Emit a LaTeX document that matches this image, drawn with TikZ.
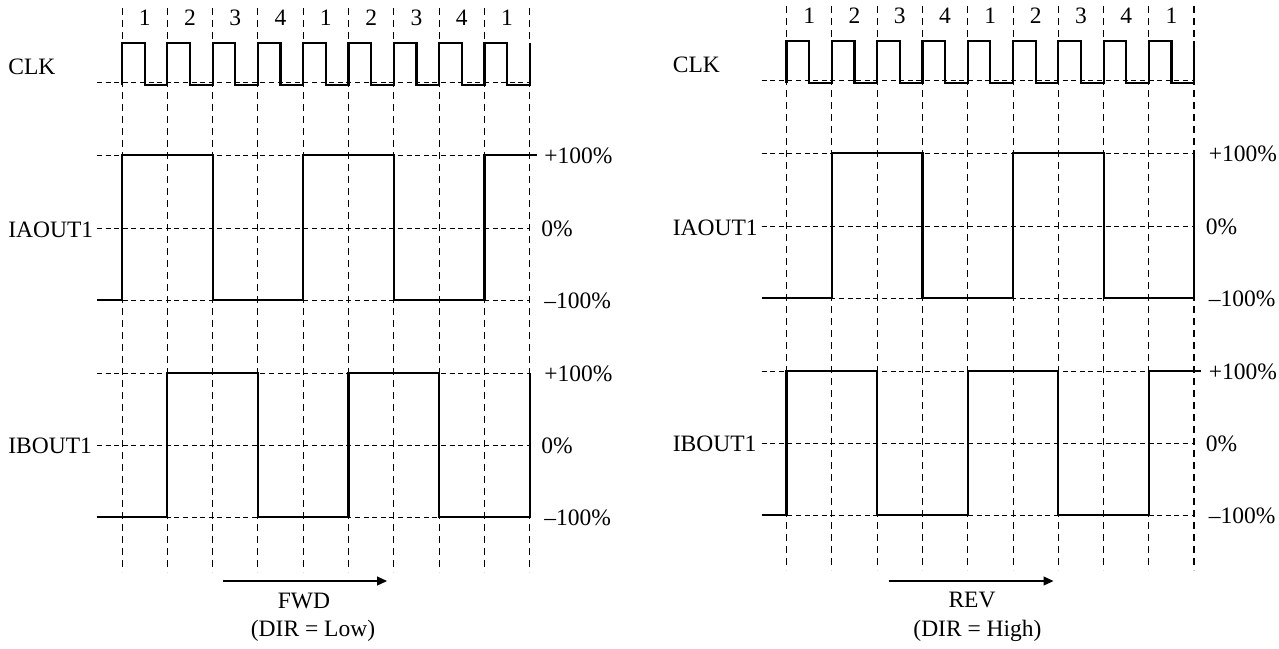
\documentclass[tikz,border=0pt]{standalone}
\usepackage{fontspec}
\setmainfont{Liberation Serif}
\usetikzlibrary{positioning, arrows.meta}

\tikzset{
  gridv/.style={line width=0.5pt, dash pattern=on 3.5pt off 2.5pt},
  gridh/.style={line width=0.5pt, dash pattern=on 2.5pt off 1.8pt},
  wave/.style={line width=1.1pt, line join=miter},
  lbl/.style={font=\fontsize{11.75}{14}\selectfont, inner sep=0pt},
  dirarrow/.style={-{Triangle[length=5pt,width=4.5pt]}, line width=0.6pt}
}

\begin{document}
\begin{tikzpicture}[x=0.5pt, y=-0.5pt]
\useasboundingbox (0,0) rectangle (1279,648);

% grid, clock and level labels, same for both panels
\foreach \sx/\sy/\p in {0/0/L, 664.5/-2/R} {
\begin{scope}[shift={(\sx,\sy)}]
\foreach \x in {122,167.3,212.6,257.9,303.2,348.5,393.8,439.1,484.4,529.7}
  \draw[gridv] (\x,8) -- (\x,572);
\foreach \y in {82,155,228,300,373,445,517}
  \draw[gridh] (97,\y) -- (529.7,\y);
\foreach \n [count=\i] in {1,2,3,4,1,2,3,4,1}
  \node[lbl] (num\p\i) at ({99.35+45.3*\i},18) {\n};
\draw[wave] (122,85) \foreach \k in {1,...,9} { -- ++(0,-42) -- ++(22.65,0) -- ++(0,42) -- ++(22.65,0) } -- ++(0,-42);
\node[lbl, anchor=west] (clk\p) at (8,67) {CLK};
\node[lbl, anchor=west] (ia\p) at (8,230) {IAOUT1};
\node[lbl, anchor=west] (ib\p) at (8,446) {IBOUT1};
\node[lbl, anchor=west] (iahi\p) at (544,156) {+100\%};
\node[lbl, anchor=west] (iazero\p) at (541,229) {0\%};
\node[lbl, anchor=west] (ialo\p) at (544,301) {–100\%};
\node[lbl, anchor=west] (ibhi\p) at (544,374) {+100\%};
\node[lbl, anchor=west] (ibzero\p) at (541,446) {0\%};
\node[lbl, anchor=west] (iblo\p) at (544,518) {–100\%};
\end{scope}
}

% forward
\draw[wave] (97,300) -- (122,300) -- (122,155) -- (212.6,155) -- (212.6,300) -- (303.2,300) -- (303.2,155) -- (393.8,155) -- (393.8,300) -- (484.4,300) -- (484.4,155) -- (536.7,155);
\draw[wave] (97,517) -- (167.3,517) -- (167.3,373) -- (257.9,373) -- (257.9,517) -- (348.5,517) -- (348.5,373) -- (439.1,373) -- (439.1,517) -- (529.7,517) -- (529.7,373);
\coordinate (fwdstart) at (223,581);
\coordinate (fwdend) at (387,581);
\draw[dirarrow] (fwdstart) -- (fwdend);
\node[lbl] (fwd) at (304,601) {FWD};
\node[lbl] (dirlow) at (313,631) {(DIR = Low)};

% reverse
\begin{scope}[shift={(664.5,-2)}]
\draw[gridv, line width=1pt] (529.7,8) -- (529.7,572);
\draw[wave] (97,300) -- (167.3,300) -- (167.3,155) -- (257.9,155) -- (257.9,300) -- (348.5,300) -- (348.5,155) -- (439.1,155) -- (439.1,300) -- (529.7,300) -- (529.7,155);
\draw[wave] (97,517) -- (122,517) -- (122,373) -- (212.6,373) -- (212.6,517) -- (303.2,517) -- (303.2,373) -- (393.8,373) -- (393.8,517) -- (484.4,517) -- (484.4,373) -- (536.7,373);
\coordinate (revstart) at (224,583);
\coordinate (revend) at (389,583);
\draw[dirarrow] (revstart) -- (revend);
\node[lbl] (rev) at (307.5,602) {REV};
\node[lbl] (dirhigh) at (313,633) {(DIR = High)};
\end{scope}
\end{tikzpicture}
\end{document}
